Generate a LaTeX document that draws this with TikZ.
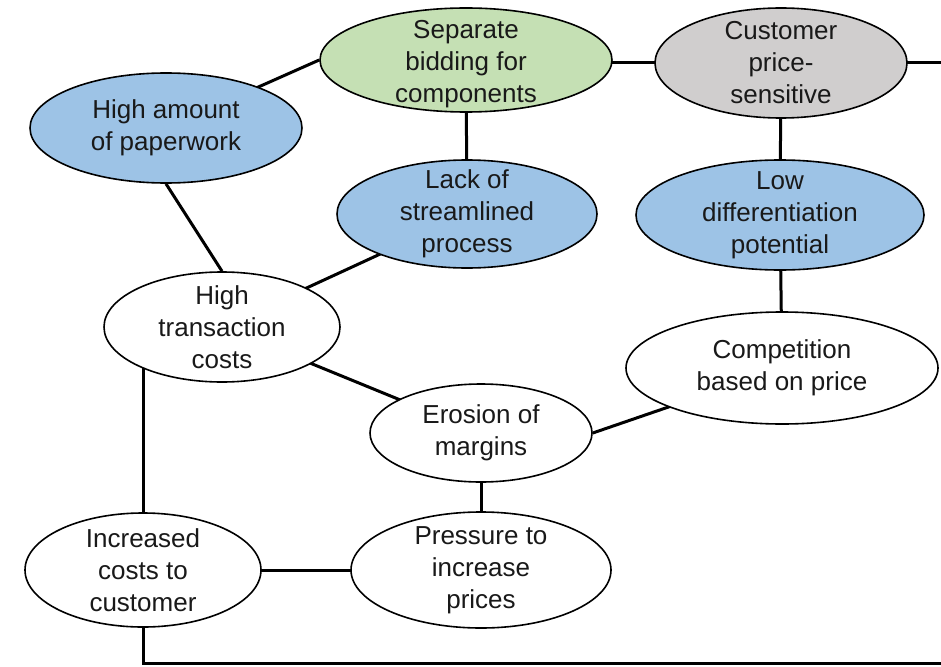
\documentclass[tikz,border=0pt]{standalone}
\usepackage{fontspec}
\setmainfont{Liberation Sans}
\usetikzlibrary{shapes.geometric,backgrounds}
\definecolor{bubbleblue}{RGB}{157,195,230}
\definecolor{bubblegreen}{RGB}{197,224,180}
\definecolor{bubblegray}{RGB}{208,206,206}
\definecolor{inkgray}{RGB}{25,25,25}
\begin{document}
\begin{tikzpicture}[x=1pt,y=-1pt,
  bubble/.style={ellipse, draw=black, line width=1.6pt, inner sep=0pt, fill=white},
  caption/.style={align=center, text=inkgray, inner sep=0pt,
    font=\fontsize{26}{32}\selectfont},
  link/.style={line width=3pt, draw=black}]
\useasboundingbox (0,0) rectangle (941,666);

% problem bubbles
\node[bubble, fill=bubbleblue, minimum width=272pt, minimum height=110pt,
  label={[caption]center:High amount\\of paperwork}] (pw) at (166,128) {};
\node[bubble, fill=bubblegreen, minimum width=292pt, minimum height=104pt,
  label={[caption, yshift=-4pt]center:Separate\\bidding for\\components}] (sep) at (466,60) {};
\node[bubble, fill=bubblegray, minimum width=252pt, minimum height=110pt,
  label={[caption]center:Customer\\price-\\sensitive}] (cust) at (781,63) {};
\node[bubble, fill=bubbleblue, minimum width=260pt, minimum height=108pt,
  label={[caption]center:Lack of\\streamlined\\process}] (lack) at (467,214) {};
\node[bubble, fill=bubbleblue, minimum width=288pt, minimum height=110pt,
  label={[caption]center:Low\\differentiation\\potential}] (low) at (780,215) {};
\node[bubble, minimum width=236pt, minimum height=110pt,
  label={[caption]center:High\\transaction\\costs}] (ht) at (222,327) {};
\node[bubble, minimum width=312pt, minimum height=112pt,
  label={[caption]center:Competition\\based on price}] (comp) at (782,368) {};
\node[bubble, minimum width=222pt, minimum height=98pt,
  label={[caption]center:Erosion of\\margins}] (ero) at (481,433) {};
\node[bubble, minimum width=236pt, minimum height=114pt,
  label={[caption]center:Increased\\costs to\\customer}] (inc) at (143,570) {};
\node[bubble, minimum width=260pt, minimum height=116pt,
  label={[caption]center:Pressure to\\increase\\prices}] (pre) at (481,570) {};

% loose ends leaving the frame
\coordinate (exitR) at (941,63);
\coordinate (exitB) at (941,663);

% connectors, behind the bubbles
\begin{scope}[on background layer]
  \draw[link] (pw.center) -- (sep.west);
  \draw[link] (pw.south) -- (ht.north);
  \draw[link] (sep.center |- cust.center) -- (cust.center);
  \draw[link] (cust.center) -- (exitR);
  \draw[link] (sep.center) -- (lack.center);
  \draw[link] (cust.center) -- (low.center);
  \draw[link] (lack.center) -- (ht.center);
  \draw[link] (ht.center) -- (ero.center);
  \draw[link] (low.center) -- (comp.center);
  \draw[link] (ero.east) -- (comp.center);
  \draw[link] (ero.center) -- (pre.center);
  \draw[link] (pre.center) -- (inc.center);
  \draw[link] (inc.center) -- (inc.center |- ht.center);
  \draw[link] (inc.center) |- (exitB);
\end{scope}
\end{tikzpicture}
\end{document}
